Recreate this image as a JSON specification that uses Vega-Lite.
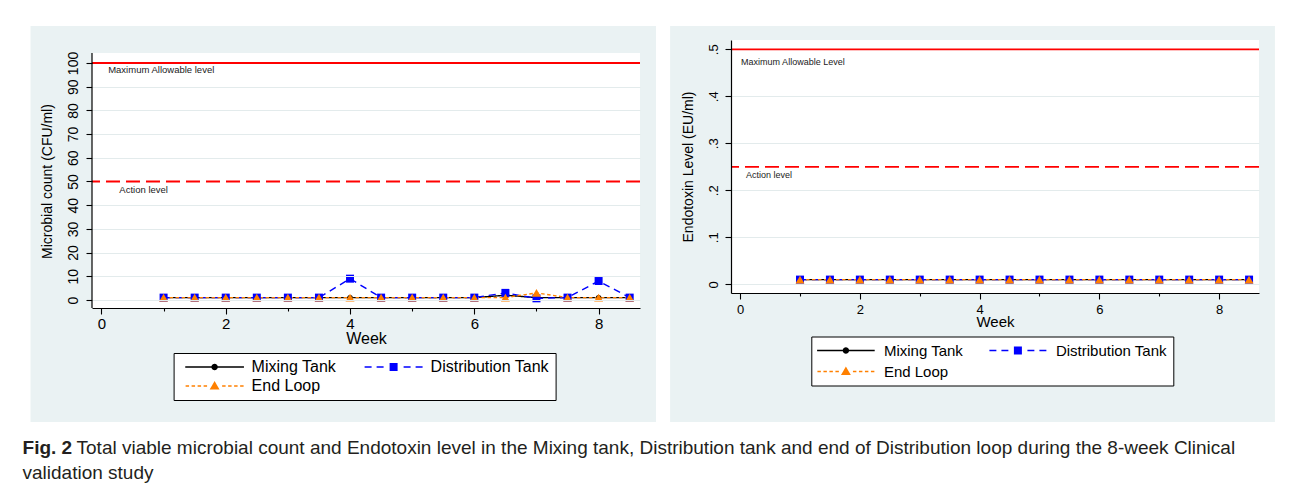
{
  "$schema": "https://vega.github.io/schema/vega-lite/v6.json",
  "background": "white",
  "padding": {"left": 22, "top": 25, "right": 0, "bottom": 0},
  "datasets": {
    "microbial": [
      {"week": 1, "series": "Mixing Tank", "value": 1}, {"week": 1.5, "series": "Mixing Tank", "value": 1},
      {"week": 2, "series": "Mixing Tank", "value": 1}, {"week": 2.5, "series": "Mixing Tank", "value": 1},
      {"week": 3, "series": "Mixing Tank", "value": 1}, {"week": 3.5, "series": "Mixing Tank", "value": 1},
      {"week": 4, "series": "Mixing Tank", "value": 1}, {"week": 4.5, "series": "Mixing Tank", "value": 1},
      {"week": 5, "series": "Mixing Tank", "value": 1}, {"week": 5.5, "series": "Mixing Tank", "value": 1},
      {"week": 6, "series": "Mixing Tank", "value": 1}, {"week": 6.5, "series": "Mixing Tank", "value": 2},
      {"week": 7, "series": "Mixing Tank", "value": 1}, {"week": 7.5, "series": "Mixing Tank", "value": 1},
      {"week": 8, "series": "Mixing Tank", "value": 1}, {"week": 8.5, "series": "Mixing Tank", "value": 1},
      {"week": 1, "series": "Distribution Tank", "value": 1}, {"week": 1.5, "series": "Distribution Tank", "value": 1},
      {"week": 2, "series": "Distribution Tank", "value": 1}, {"week": 2.5, "series": "Distribution Tank", "value": 1},
      {"week": 3, "series": "Distribution Tank", "value": 1}, {"week": 3.5, "series": "Distribution Tank", "value": 1},
      {"week": 4, "series": "Distribution Tank", "value": 9}, {"week": 4.5, "series": "Distribution Tank", "value": 1},
      {"week": 5, "series": "Distribution Tank", "value": 1}, {"week": 5.5, "series": "Distribution Tank", "value": 1},
      {"week": 6, "series": "Distribution Tank", "value": 1}, {"week": 6.5, "series": "Distribution Tank", "value": 3},
      {"week": 7, "series": "Distribution Tank", "value": 0.7}, {"week": 7.5, "series": "Distribution Tank", "value": 1},
      {"week": 8, "series": "Distribution Tank", "value": 8}, {"week": 8.5, "series": "Distribution Tank", "value": 1},
      {"week": 1, "series": "End Loop", "value": 1}, {"week": 1.5, "series": "End Loop", "value": 1},
      {"week": 2, "series": "End Loop", "value": 1}, {"week": 2.5, "series": "End Loop", "value": 1},
      {"week": 3, "series": "End Loop", "value": 1}, {"week": 3.5, "series": "End Loop", "value": 1},
      {"week": 4, "series": "End Loop", "value": 1}, {"week": 4.5, "series": "End Loop", "value": 1},
      {"week": 5, "series": "End Loop", "value": 1}, {"week": 5.5, "series": "End Loop", "value": 1},
      {"week": 6, "series": "End Loop", "value": 1}, {"week": 6.5, "series": "End Loop", "value": 1},
      {"week": 7, "series": "End Loop", "value": 3}, {"week": 7.5, "series": "End Loop", "value": 1},
      {"week": 8, "series": "End Loop", "value": 1}, {"week": 8.5, "series": "End Loop", "value": 1}
    ],
    "endotoxin": [
      {"week": 1, "series": "Mixing Tank", "value": 0.01}, {"week": 1.5, "series": "Mixing Tank", "value": 0.01},
      {"week": 2, "series": "Mixing Tank", "value": 0.01}, {"week": 2.5, "series": "Mixing Tank", "value": 0.01},
      {"week": 3, "series": "Mixing Tank", "value": 0.01}, {"week": 3.5, "series": "Mixing Tank", "value": 0.01},
      {"week": 4, "series": "Mixing Tank", "value": 0.01}, {"week": 4.5, "series": "Mixing Tank", "value": 0.01},
      {"week": 5, "series": "Mixing Tank", "value": 0.01}, {"week": 5.5, "series": "Mixing Tank", "value": 0.01},
      {"week": 6, "series": "Mixing Tank", "value": 0.01}, {"week": 6.5, "series": "Mixing Tank", "value": 0.01},
      {"week": 7, "series": "Mixing Tank", "value": 0.01}, {"week": 7.5, "series": "Mixing Tank", "value": 0.01},
      {"week": 8, "series": "Mixing Tank", "value": 0.01}, {"week": 8.5, "series": "Mixing Tank", "value": 0.01},
      {"week": 1, "series": "Distribution Tank", "value": 0.01}, {"week": 1.5, "series": "Distribution Tank", "value": 0.01},
      {"week": 2, "series": "Distribution Tank", "value": 0.01}, {"week": 2.5, "series": "Distribution Tank", "value": 0.01},
      {"week": 3, "series": "Distribution Tank", "value": 0.01}, {"week": 3.5, "series": "Distribution Tank", "value": 0.01},
      {"week": 4, "series": "Distribution Tank", "value": 0.01}, {"week": 4.5, "series": "Distribution Tank", "value": 0.01},
      {"week": 5, "series": "Distribution Tank", "value": 0.01}, {"week": 5.5, "series": "Distribution Tank", "value": 0.01},
      {"week": 6, "series": "Distribution Tank", "value": 0.01}, {"week": 6.5, "series": "Distribution Tank", "value": 0.01},
      {"week": 7, "series": "Distribution Tank", "value": 0.01}, {"week": 7.5, "series": "Distribution Tank", "value": 0.01},
      {"week": 8, "series": "Distribution Tank", "value": 0.01}, {"week": 8.5, "series": "Distribution Tank", "value": 0.01},
      {"week": 1, "series": "End Loop", "value": 0.01}, {"week": 1.5, "series": "End Loop", "value": 0.01},
      {"week": 2, "series": "End Loop", "value": 0.01}, {"week": 2.5, "series": "End Loop", "value": 0.01},
      {"week": 3, "series": "End Loop", "value": 0.01}, {"week": 3.5, "series": "End Loop", "value": 0.01},
      {"week": 4, "series": "End Loop", "value": 0.01}, {"week": 4.5, "series": "End Loop", "value": 0.01},
      {"week": 5, "series": "End Loop", "value": 0.01}, {"week": 5.5, "series": "End Loop", "value": 0.01},
      {"week": 6, "series": "End Loop", "value": 0.01}, {"week": 6.5, "series": "End Loop", "value": 0.01},
      {"week": 7, "series": "End Loop", "value": 0.01}, {"week": 7.5, "series": "End Loop", "value": 0.01},
      {"week": 8, "series": "End Loop", "value": 0.01}, {"week": 8.5, "series": "End Loop", "value": 0.01}
    ]
  },
  "config": {
    "view": {"stroke": null},
    "axis": {
      "domainColor": "#000000",
      "domainWidth": 1.2,
      "tickColor": "#000000",
      "tickWidth": 1.1,
      "labelColor": "#000000",
      "titleColor": "#000000",
      "labelFont": "Liberation Sans",
      "titleFont": "Liberation Sans",
      "titleFontWeight": "normal",
      "gridColor": "#e3ebec",
      "gridWidth": 1.2,
      "labelOverlap": false,
      "labelFlush": false,
      "labelBound": false
    },
    "legend": {
      "labelFont": "Liberation Sans",
      "labelColor": "#000000",
      "strokeColor": "#000000",
      "fillColor": "#ffffff",
      "cornerRadius": 0
    }
  },
  "title": {
    "text": "validation study",
    "orient": "bottom",
    "anchor": "start",
    "frame": "bounds",
    "offset": 6,
    "font": "Liberation Sans",
    "fontSize": 19,
    "fontWeight": "normal",
    "color": "#231f20"
  },
  "vconcat": [
    {
      "title": {
        "text": "Total viable microbial count and Endotoxin level in the Mixing tank, Distribution tank and end of Distribution loop during the 8-week Clinical",
        "orient": "bottom",
        "anchor": "start",
        "frame": "bounds",
        "offset": 0,
        "dx": 54,
        "dy": -19,
        "font": "Liberation Sans",
        "fontSize": 19,
        "fontWeight": "normal",
        "color": "#231f20"
      },
      "vconcat": [
        {
          "title": {
            "text": "Fig. 2",
            "orient": "bottom",
            "anchor": "start",
            "frame": "bounds",
            "offset": 17,
            "dx": -8,
            "font": "Liberation Sans",
            "fontSize": 19,
            "fontWeight": "bold",
            "color": "#231f20"
          },
          "spacing": 14,
          "resolve": {
            "scale": {"color": "independent", "strokeDash": "independent"},
            "legend": {"color": "independent"}
          },
          "hconcat": [
            {
              "width": 548,
              "height": 268,
              "layer": [
                {
                  "data": {"values": [{}]},
                  "mark": {"type": "rect", "color": "#eaf2f3"},
                  "encoding": {
                    "x": {
                      "datum": -1.141, "type": "quantitative",
                      "scale": {"domain": [-0.152, 8.666], "nice": false, "zero": false},
                      "axis": {
                        "zindex": 1,
                        "title": "Week", "titleFontSize": 16, "titlePadding": -1,
                        "values": [0, 0.5, 1, 1.5, 2, 2.5, 3, 3.5, 4, 4.5, 5, 5.5, 6, 6.5, 7, 7.5, 8, 8.5],
                        "labelExpr": "datum.value % 2 === 0 ? format(datum.value, 'd') : ''",
                        "labelOverlap": false,
                        "labelFontSize": 15, "labelPadding": 2, "tickSize": 6,
                        "tickDash": {"condition": {"test": "datum.value % 2 !== 0", "value": [3, 20]}, "value": []},
                        "grid": false
                      }
                    },
                    "x2": {"datum": 8.923},
                    "y": {
                      "datum": -51.5, "type": "quantitative",
                      "scale": {"domain": [-3.38, 109.7], "nice": false, "zero": false},
                      "axis": {
                        "zindex": 1,
                        "title": "Microbial count (CFU/ml)", "titleFontSize": 14, "titlePadding": 12, "titleY": 141,
                        "values": [0, 10, 20, 30, 40, 50, 60, 70, 80, 90, 100],
                        "tickCount": 11,
                        "format": "d",
                        "labelOverlap": false,
                        "labelAngle": 270, "labelAlign": "center", "labelBaseline": "bottom",
                        "labelFontSize": 14, "labelPadding": 6, "tickSize": 6,
                        "grid": true,
                        "gridOpacity": {"condition": {"test": "datum.value === 50 || datum.value === 100", "value": 0}, "value": 1},
                        "domain": false
                      }
                    },
                    "y2": {"datum": 115.6}
                  }
                },
                {
                  "data": {"values": [{}]},
                  "mark": {"type": "rect", "color": "#ffffff"},
                  "encoding": {
                    "x": {"datum": -0.152, "type": "quantitative", "scale": {"domain": [-0.152, 8.666], "nice": false, "zero": false}},
                    "x2": {"datum": 8.666},
                    "y": {"datum": -3.38, "type": "quantitative", "scale": {"domain": [-3.38, 109.7], "nice": false, "zero": false}},
                    "y2": {"datum": 104.2}
                  }
                },
                {
                  "data": {"values": [{}]},
                  "mark": {"type": "rule", "color": "#ff0000", "strokeWidth": 1.8},
                  "encoding": {
                    "y": {"datum": 100, "type": "quantitative", "scale": {"domain": [-3.38, 109.7], "nice": false, "zero": false}}
                  }
                },
                {
                  "data": {"values": [{}]},
                  "mark": {"type": "rule", "color": "#ff0000", "strokeWidth": 1.8, "strokeDash": [14, 6]},
                  "encoding": {
                    "y": {"datum": 50, "type": "quantitative", "scale": {"domain": [-3.38, 109.7], "nice": false, "zero": false}}
                  }
                },
                {
                  "data": {"values": [{}]},
                  "mark": {"type": "rule", "color": "#000000", "strokeWidth": 1.2},
                  "encoding": {
                    "x": {"datum": -0.152, "type": "quantitative", "scale": {"domain": [-0.152, 8.666], "nice": false, "zero": false}},
                    "y": {"datum": -3.38, "type": "quantitative", "scale": {"domain": [-3.38, 109.7], "nice": false, "zero": false}},
                    "y2": {"datum": 104.2}
                  }
                },
                {
                  "data": {"values": [{}]},
                  "mark": {"type": "text", "align": "left", "baseline": "middle", "font": "Liberation Sans", "fontSize": 9.5, "color": "#222222"},
                  "encoding": {
                    "x": {"datum": 0.108, "type": "quantitative", "scale": {"domain": [-0.152, 8.666], "nice": false, "zero": false}},
                    "y": {"datum": 97.05, "type": "quantitative", "scale": {"domain": [-3.38, 109.7], "nice": false, "zero": false}},
                    "text": {"value": "Maximum Allowable level"}
                  }
                },
                {
                  "data": {"values": [{}]},
                  "mark": {"type": "text", "align": "left", "baseline": "middle", "font": "Liberation Sans", "fontSize": 9.5, "color": "#222222"},
                  "encoding": {
                    "x": {"datum": 0.288, "type": "quantitative", "scale": {"domain": [-0.152, 8.666], "nice": false, "zero": false}},
                    "y": {"datum": 46.4, "type": "quantitative", "scale": {"domain": [-3.38, 109.7], "nice": false, "zero": false}},
                    "text": {"value": "Action level"}
                  }
                },
                {
                  "data": {"name": "microbial"},
                  "mark": {"type": "line", "strokeWidth": 1.4},
                  "encoding": {
                    "x": {"field": "week", "type": "quantitative", "scale": {"domain": [-0.152, 8.666], "nice": false, "zero": false}},
                    "y": {"field": "value", "type": "quantitative", "scale": {"domain": [-3.38, 109.7], "nice": false, "zero": false}},
                    "color": {
                      "field": "series", "type": "nominal",
                      "scale": {"domain": ["Mixing Tank", "Distribution Tank", "End Loop"], "range": ["#000000", "#0000ff", "#ff8000"]},
                      "legend": {
                        "title": null, "orient": "none", "legendX": 81.6, "legendY": 313,
                        "direction": "horizontal", "columns": 2,
                        "padding": 6,
                        "labelFontSize": 16, "labelLimit": 400,
                        "symbolSize": 256, "symbolStrokeWidth": 0,
                        "symbolOffset": 27, "labelOffset": 29,
                        "columnPadding": 22, "rowPadding": 3,
                        "encode": {
                          "symbols": {
                            "update": {
                              "shape": [
                                {"test": "datum.value === 'Mixing Tank'", "value": "M-3.67,-0.09L-0.39,-0.09A0.4,0.4,0,0,1,0.39,-0.09L3.67,-0.09L3.67,0.09L0.39,0.09A0.4,0.4,0,0,1,-0.39,0.09L-3.67,0.09Z"},
                                {"test": "datum.value === 'Distribution Tank'", "value": "M-3.625,0L-3.625,-0.09L-2.75,-0.09L-2.75,0L-2.125,0L-2.125,-0.09L-1.25,-0.09L-1.25,0L-0.5,0L-0.5,-0.5L0.5,-0.5L0.5,0L1.25,0L1.25,-0.09L2.125,-0.09L2.125,0L2.75,0L2.75,-0.09L3.625,-0.09L3.625,0.09L2.75,0.09L2.75,0L2.125,0L2.125,0.09L1.25,0.09L1.25,0L0.5,0L0.5,0.5L-0.5,0.5L-0.5,0L-1.25,0L-1.25,0.09L-2.125,0.09L-2.125,0L-2.75,0L-2.75,0.09L-3.625,0.09Z"},
                                {"value": "M-3.625,0L-3.625,-0.09L-3.19,-0.09L-3.19,0L-2.875,0L-2.875,-0.09L-2.44,-0.09L-2.44,0L-2.125,0L-2.125,-0.09L-1.69,-0.09L-1.69,0L-1.375,0L-1.375,-0.09L-0.94,-0.09L-0.94,0L-0.359,0L0,-0.62L0.359,0L0.94,0L0.94,-0.09L1.375,-0.09L1.375,0L1.69,0L1.69,-0.09L2.125,-0.09L2.125,0L2.44,0L2.44,-0.09L2.875,-0.09L2.875,0L3.19,0L3.19,-0.09L3.625,-0.09L3.625,0.09L3.19,0.09L3.19,0L2.875,0L2.875,0.09L2.44,0.09L2.44,0L2.125,0L2.125,0.09L1.69,0.09L1.69,0L1.375,0L1.375,0.09L0.94,0.09L0.94,0L0.359,0L0.62,0.45L-0.62,0.45L-0.359,0L-0.94,0L-0.94,0.09L-1.375,0.09L-1.375,0L-1.69,0L-1.69,0.09L-2.125,0.09L-2.125,0L-2.44,0L-2.44,0.09L-2.875,0.09L-2.875,0L-3.19,0L-3.19,0.09L-3.625,0.09Z"}
                              ],
                              "fill": [
                                {"test": "datum.value === 'Mixing Tank'", "value": "#000000"},
                                {"test": "datum.value === 'Distribution Tank'", "value": "#0000ff"},
                                {"value": "#ff8000"}
                              ],
                              "fillOpacity": {"value": 1},
                              "strokeWidth": {"value": 0}
                            }
                          }
                        }
                      }
                    },
                    "strokeDash": {
                      "field": "series", "type": "nominal",
                      "scale": {"domain": ["Mixing Tank", "Distribution Tank", "End Loop"], "range": [[1, 0], [7, 5], [3.5, 2.5]]},
                      "legend": null
                    }
                  }
                },
                {
                  "data": {"name": "microbial"},
                  "transform": [{"filter": "datum.series === 'Mixing Tank'"}],
                  "mark": {"type": "point", "shape": "circle", "size": 30, "filled": true, "opacity": 1, "color": "#000000", "strokeWidth": 0},
                  "encoding": {
                    "x": {"field": "week", "type": "quantitative", "scale": {"domain": [-0.152, 8.666], "nice": false, "zero": false}},
                    "y": {"field": "value", "type": "quantitative", "scale": {"domain": [-3.38, 109.7], "nice": false, "zero": false}}
                  }
                },
                {
                  "data": {"name": "microbial"},
                  "transform": [{"filter": "datum.series === 'Distribution Tank'"}],
                  "mark": {"type": "point", "shape": "square", "size": 64, "filled": true, "opacity": 1, "color": "#0000ff", "strokeWidth": 0},
                  "encoding": {
                    "x": {"field": "week", "type": "quantitative", "scale": {"domain": [-0.152, 8.666], "nice": false, "zero": false}},
                    "y": {"field": "value", "type": "quantitative", "scale": {"domain": [-3.38, 109.7], "nice": false, "zero": false}}
                  }
                },
                {
                  "data": {"name": "microbial"},
                  "transform": [{"filter": "datum.series === 'End Loop'"}],
                  "mark": {"type": "point", "shape": "triangle-up", "size": 80, "filled": true, "opacity": 1, "color": "#ff8000", "strokeWidth": 0},
                  "encoding": {
                    "x": {"field": "week", "type": "quantitative", "scale": {"domain": [-0.152, 8.666], "nice": false, "zero": false}},
                    "y": {"field": "value", "type": "quantitative", "scale": {"domain": [-3.38, 109.7], "nice": false, "zero": false}}
                  }
                }
              ]
            },
            {
              "width": 528,
              "height": 253,
              "layer": [
                {
                  "data": {"values": [{}]},
                  "mark": {"type": "rect", "color": "#eaf2f3"},
                  "encoding": {
                    "x": {
                      "datum": -1.169, "type": "quantitative",
                      "scale": {"domain": [-0.152, 8.666], "nice": false, "zero": false},
                      "axis": {
                        "zindex": 1,
                        "title": "Week", "titleFontSize": 15, "titlePadding": -2,
                        "values": [0, 0.5, 1, 1.5, 2, 2.5, 3, 3.5, 4, 4.5, 5, 5.5, 6, 6.5, 7, 7.5, 8, 8.5],
                        "labelExpr": "datum.value % 2 === 0 ? format(datum.value, 'd') : ''",
                        "labelOverlap": false,
                        "labelFontSize": 13, "labelPadding": 4, "tickSize": 6,
                        "tickDash": {"condition": {"test": "datum.value % 2 !== 0", "value": [3, 20]}, "value": []},
                        "grid": false
                      }
                    },
                    "x2": {"datum": 8.932},
                    "y": {
                      "datum": -0.293, "type": "quantitative",
                      "scale": {"domain": [-0.0185, 0.5198], "nice": false, "zero": false},
                      "axis": {
                        "zindex": 1,
                        "title": "Endotoxin Level (EU/ml)", "titleFontSize": 14, "titlePadding": 12,
                        "values": [0, 0.1, 0.2, 0.3, 0.4, 0.5],
                        "labelExpr": "datum.value === 0 ? '0' : substring(format(datum.value, '.1f'), 1)",
                        "labelOverlap": false,
                        "labelAngle": 270, "labelAlign": "center", "labelBaseline": "bottom",
                        "labelFontSize": 13, "labelPadding": 5, "tickSize": 6,
                        "grid": true,
                        "gridOpacity": {"condition": {"test": "datum.value > 0.45", "value": 0}, "value": 1}
                      }
                    },
                    "y2": {"datum": 0.5496}
                  }
                },
                {
                  "data": {"values": [{}]},
                  "mark": {"type": "rect", "color": "#ffffff"},
                  "encoding": {
                    "x": {"datum": -0.152, "type": "quantitative", "scale": {"domain": [-0.152, 8.666], "nice": false, "zero": false}},
                    "x2": {"datum": 8.666},
                    "y": {"datum": -0.0185, "type": "quantitative", "scale": {"domain": [-0.0185, 0.5198], "nice": false, "zero": false}},
                    "y2": {"datum": 0.5198}
                  }
                },
                {
                  "data": {"values": [{}]},
                  "mark": {"type": "rule", "color": "#ff0000", "strokeWidth": 1.8},
                  "encoding": {
                    "y": {"datum": 0.5, "type": "quantitative", "scale": {"domain": [-0.0185, 0.5198], "nice": false, "zero": false}}
                  }
                },
                {
                  "data": {"values": [{}]},
                  "mark": {"type": "rule", "color": "#ff0000", "strokeWidth": 1.8, "strokeDash": [14, 6]},
                  "encoding": {
                    "y": {"datum": 0.25, "type": "quantitative", "scale": {"domain": [-0.0185, 0.5198], "nice": false, "zero": false}}
                  }
                },
                {
                  "data": {"values": [{}]},
                  "mark": {"type": "text", "align": "left", "baseline": "middle", "font": "Liberation Sans", "fontSize": 9, "color": "#222222"},
                  "encoding": {
                    "x": {"datum": 0.017, "type": "quantitative", "scale": {"domain": [-0.152, 8.666], "nice": false, "zero": false}},
                    "y": {"datum": 0.4736, "type": "quantitative", "scale": {"domain": [-0.0185, 0.5198], "nice": false, "zero": false}},
                    "text": {"value": "Maximum Allowable Level"}
                  }
                },
                {
                  "data": {"values": [{}]},
                  "mark": {"type": "text", "align": "left", "baseline": "middle", "font": "Liberation Sans", "fontSize": 9, "color": "#222222"},
                  "encoding": {
                    "x": {"datum": 0.1, "type": "quantitative", "scale": {"domain": [-0.152, 8.666], "nice": false, "zero": false}},
                    "y": {"datum": 0.2326, "type": "quantitative", "scale": {"domain": [-0.0185, 0.5198], "nice": false, "zero": false}},
                    "text": {"value": "Action level"}
                  }
                },
                {
                  "data": {"name": "endotoxin"},
                  "mark": {"type": "line", "strokeWidth": 1.4},
                  "encoding": {
                    "x": {"field": "week", "type": "quantitative", "scale": {"domain": [-0.152, 8.666], "nice": false, "zero": false}},
                    "y": {"field": "value", "type": "quantitative", "scale": {"domain": [-0.0185, 0.5198], "nice": false, "zero": false}},
                    "color": {
                      "field": "series", "type": "nominal",
                      "scale": {"domain": ["Mixing Tank", "Distribution Tank", "End Loop"], "range": ["#000000", "#0000ff", "#ff8000"]},
                      "legend": {
                        "title": null, "orient": "none", "legendX": 80.3, "legendY": 296.5,
                        "direction": "horizontal", "columns": 2,
                        "padding": 6,
                        "labelFontSize": 15, "labelLimit": 400,
                        "symbolSize": 256, "symbolStrokeWidth": 0,
                        "symbolOffset": 20.6, "labelOffset": 30,
                        "columnPadding": 26, "rowPadding": 5,
                        "encode": {
                          "symbols": {
                            "update": {
                              "shape": [
                                {"test": "datum.value === 'Mixing Tank'", "value": "M-3.6,-0.09L-0.39,-0.09A0.4,0.4,0,0,1,0.39,-0.09L3.6,-0.09L3.6,0.09L0.39,0.09A0.4,0.4,0,0,1,-0.39,0.09L-3.6,0.09Z"},
                                {"test": "datum.value === 'Distribution Tank'", "value": "M-3.56,0L-3.56,-0.09L-2.69,-0.09L-2.69,0L-2.06,0L-2.06,-0.09L-1.19,-0.09L-1.19,0L-0.5,0L-0.5,-0.5L0.5,-0.5L0.5,0L1.19,0L1.19,-0.09L2.06,-0.09L2.06,0L2.69,0L2.69,-0.09L3.56,-0.09L3.56,0.09L2.69,0.09L2.69,0L2.06,0L2.06,0.09L1.19,0.09L1.19,0L0.5,0L0.5,0.5L-0.5,0.5L-0.5,0L-1.19,0L-1.19,0.09L-2.06,0.09L-2.06,0L-2.69,0L-2.69,0.09L-3.56,0.09Z"},
                                {"value": "M-3.56,0L-3.56,-0.09L-3.13,-0.09L-3.13,0L-2.81,0L-2.81,-0.09L-2.38,-0.09L-2.38,0L-2.06,0L-2.06,-0.09L-1.63,-0.09L-1.63,0L-1.31,0L-1.31,-0.09L-0.88,-0.09L-0.88,0L-0.359,0L0,-0.62L0.359,0L0.88,0L0.88,-0.09L1.31,-0.09L1.31,0L1.63,0L1.63,-0.09L2.06,-0.09L2.06,0L2.38,0L2.38,-0.09L2.81,-0.09L2.81,0L3.13,0L3.13,-0.09L3.56,-0.09L3.56,0.09L3.13,0.09L3.13,0L2.81,0L2.81,0.09L2.38,0.09L2.38,0L2.06,0L2.06,0.09L1.63,0.09L1.63,0L1.31,0L1.31,0.09L0.88,0.09L0.88,0L0.359,0L0.62,0.45L-0.62,0.45L-0.359,0L-0.88,0L-0.88,0.09L-1.31,0.09L-1.31,0L-1.63,0L-1.63,0.09L-2.06,0.09L-2.06,0L-2.38,0L-2.38,0.09L-2.81,0.09L-2.81,0L-3.13,0L-3.13,0.09L-3.56,0.09Z"}
                              ],
                              "fill": [
                                {"test": "datum.value === 'Mixing Tank'", "value": "#000000"},
                                {"test": "datum.value === 'Distribution Tank'", "value": "#0000ff"},
                                {"value": "#ff8000"}
                              ],
                              "fillOpacity": {"value": 1},
                              "strokeWidth": {"value": 0}
                            }
                          }
                        }
                      }
                    },
                    "strokeDash": {
                      "field": "series", "type": "nominal",
                      "scale": {"domain": ["Mixing Tank", "Distribution Tank", "End Loop"], "range": [[1, 0], [7, 5], [3.5, 2.5]]},
                      "legend": null
                    }
                  }
                },
                {
                  "data": {"name": "endotoxin"},
                  "transform": [{"filter": "datum.series === 'Mixing Tank'"}],
                  "mark": {"type": "point", "shape": "circle", "size": 30, "filled": true, "opacity": 1, "color": "#000000", "strokeWidth": 0},
                  "encoding": {
                    "x": {"field": "week", "type": "quantitative", "scale": {"domain": [-0.152, 8.666], "nice": false, "zero": false}},
                    "y": {"field": "value", "type": "quantitative", "scale": {"domain": [-0.0185, 0.5198], "nice": false, "zero": false}}
                  }
                },
                {
                  "data": {"name": "endotoxin"},
                  "transform": [{"filter": "datum.series === 'Distribution Tank'"}],
                  "mark": {"type": "point", "shape": "square", "size": 64, "filled": true, "opacity": 1, "color": "#0000ff", "strokeWidth": 0},
                  "encoding": {
                    "x": {"field": "week", "type": "quantitative", "scale": {"domain": [-0.152, 8.666], "nice": false, "zero": false}},
                    "y": {"field": "value", "type": "quantitative", "scale": {"domain": [-0.0185, 0.5198], "nice": false, "zero": false}}
                  }
                },
                {
                  "data": {"name": "endotoxin"},
                  "transform": [{"filter": "datum.series === 'End Loop'"}],
                  "mark": {"type": "point", "shape": "triangle-up", "size": 80, "filled": true, "opacity": 1, "color": "#ff8000", "strokeWidth": 0},
                  "encoding": {
                    "x": {"field": "week", "type": "quantitative", "scale": {"domain": [-0.152, 8.666], "nice": false, "zero": false}},
                    "y": {"field": "value", "type": "quantitative", "scale": {"domain": [-0.0185, 0.5198], "nice": false, "zero": false}}
                  }
                }
              ]
            }
          ]
        }
      ]
    }
  ]
}
